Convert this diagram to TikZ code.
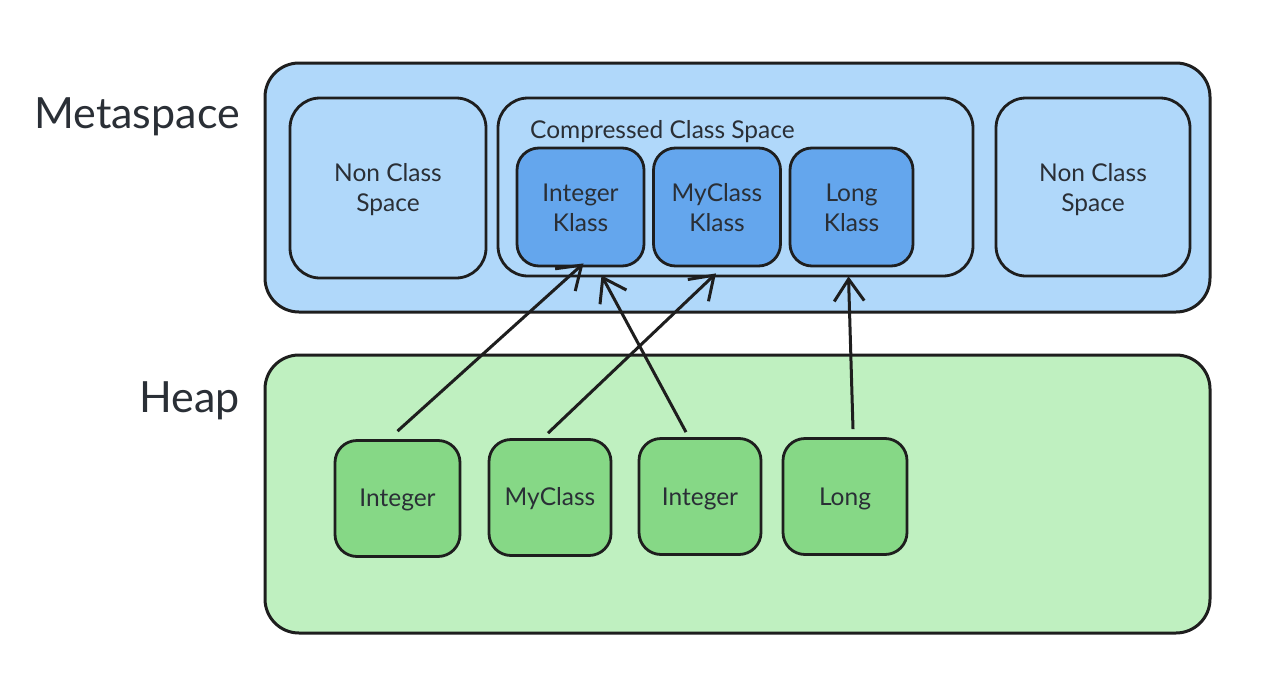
\documentclass[tikz,border=0pt]{standalone}
\usepackage{fontspec}
\setmainfont{Lato}
\usetikzlibrary{arrows.meta,calc}
\definecolor{metafill}{HTML}{B0D8FA}
\definecolor{klassfill}{HTML}{64A6ED}
\definecolor{heapfill}{HTML}{BFF0C0}
\definecolor{objfill}{HTML}{86D886}
\definecolor{ink}{HTML}{1E1E1E}
\definecolor{txt}{HTML}{2A2F36}
\begin{document}
\begin{tikzpicture}[x=1pt,y=-1pt,
  every node/.style={text=txt},
  bigbox/.style={draw=ink,line width=3pt,rounded corners=34pt,inner sep=0pt},
  midbox/.style={draw=ink,line width=2.8pt,rounded corners=30pt,inner sep=0pt,fill=metafill,
     font=\fontsize{24.5}{30}\selectfont,align=center,text depth=-3pt},
  klassbox/.style={draw=ink,line width=2.8pt,rounded corners=22pt,inner sep=0pt,fill=klassfill,
     minimum width=127pt,minimum height=118pt,font=\fontsize{24.5}{30}\selectfont,align=center},
  objbox/.style={draw=ink,line width=2.8pt,rounded corners=22pt,inner sep=0pt,fill=objfill,
     minimum width=123pt,minimum height=116pt,font=\fontsize{24.5}{30}\selectfont,align=center},
  biglabel/.style={font=\fontsize{43}{48}\selectfont,anchor=east,inner sep=0pt},
  ptr/.style={draw=ink,line width=3pt,-{Straight Barb[length=22pt,width=30pt,line width=3pt]}}
]
\useasboundingbox (0,0) rectangle (1274,688);
\fill[white] (0,0) rectangle (1274,688);

% outer regions
\node[bigbox,fill=metafill,minimum width=945pt,minimum height=249pt] (meta) at (737.5,187.5) {};
\node[bigbox,fill=heapfill,minimum width=945pt,minimum height=278pt] (heap) at (737.5,494) {};

\node[biglabel] (metalabel) at (240,117) {Metaspace};
\node[biglabel] (heaplabel) at (240,401) {Heap};

% metaspace contents
\node[midbox,minimum width=196pt,minimum height=180pt] (ncs1) at (388,188) {};
\node[font=\fontsize{24.5}{30}\selectfont,align=center] (ncs1t) at (388,190) {Non Class\\Space};
\node[midbox,minimum width=475pt,minimum height=178pt] (ccs) at (735.5,187) {};
\node[anchor=west,inner sep=0pt,font=\fontsize{24.5}{28}\selectfont] (ccslabel) at (530,132) {Compressed Class Space};
\node[midbox,minimum width=194pt,minimum height=178pt] (ncs2) at (1093,187) {};
\node[font=\fontsize{24.5}{30}\selectfont,align=center] (ncs2t) at (1093,190) {Non Class\\Space};

\node[klassbox] (k1) at (580.5,207) {};
\node[klassbox] (k2) at (717,207) {};
\node[klassbox,minimum width=123pt] (k3) at (851.5,207) {};
\node[font=\fontsize{24.5}{30}\selectfont,align=center] (k1t) at (580.5,208) {Integer\\Klass};
\node[font=\fontsize{24.5}{30}\selectfont,align=center] (k2t) at (717,208) {MyClass\\Klass};
\node[font=\fontsize{24.5}{30}\selectfont,align=center] (k3t) at (851.5,208) {Long\\Klass};

% heap objects
\node[objbox,minimum width=125pt] (o1) at (397.5,498.5) {};
\node[objbox,minimum width=122pt] (o2) at (550,497.5) {};
\node[objbox,minimum width=122pt] (o3) at (700,496.5) {};
\node[objbox,minimum width=124pt] (o4) at (845,496.5) {};
\node[font=\fontsize{24.5}{30}\selectfont] (o1t) at (397.5,500) {Integer};
\node[font=\fontsize{24.5}{30}\selectfont] (o2t) at (550,499) {MyClass};
\node[font=\fontsize{24.5}{30}\selectfont] (o3t) at (700,499) {Integer};
\node[font=\fontsize{24.5}{30}\selectfont] (o4t) at (845,499) {Long};

% pointers
\draw[ptr] ($(o1.north)+(0,-8)$) -- ($(k1.south)+(3,-4)$);
\draw[ptr] ($(o2.north)+(-2,-5)$) -- ($(k2.south)+(-1,6)$);
\draw[ptr] ($(o3.north)+(-14,-5)$) -- ($(k1.south)+(21,8)$);
\draw[ptr] ($(o4.north)+(8,-8)$) -- ($(k3.south)+(-3,9)$);
\end{tikzpicture}
\end{document}
